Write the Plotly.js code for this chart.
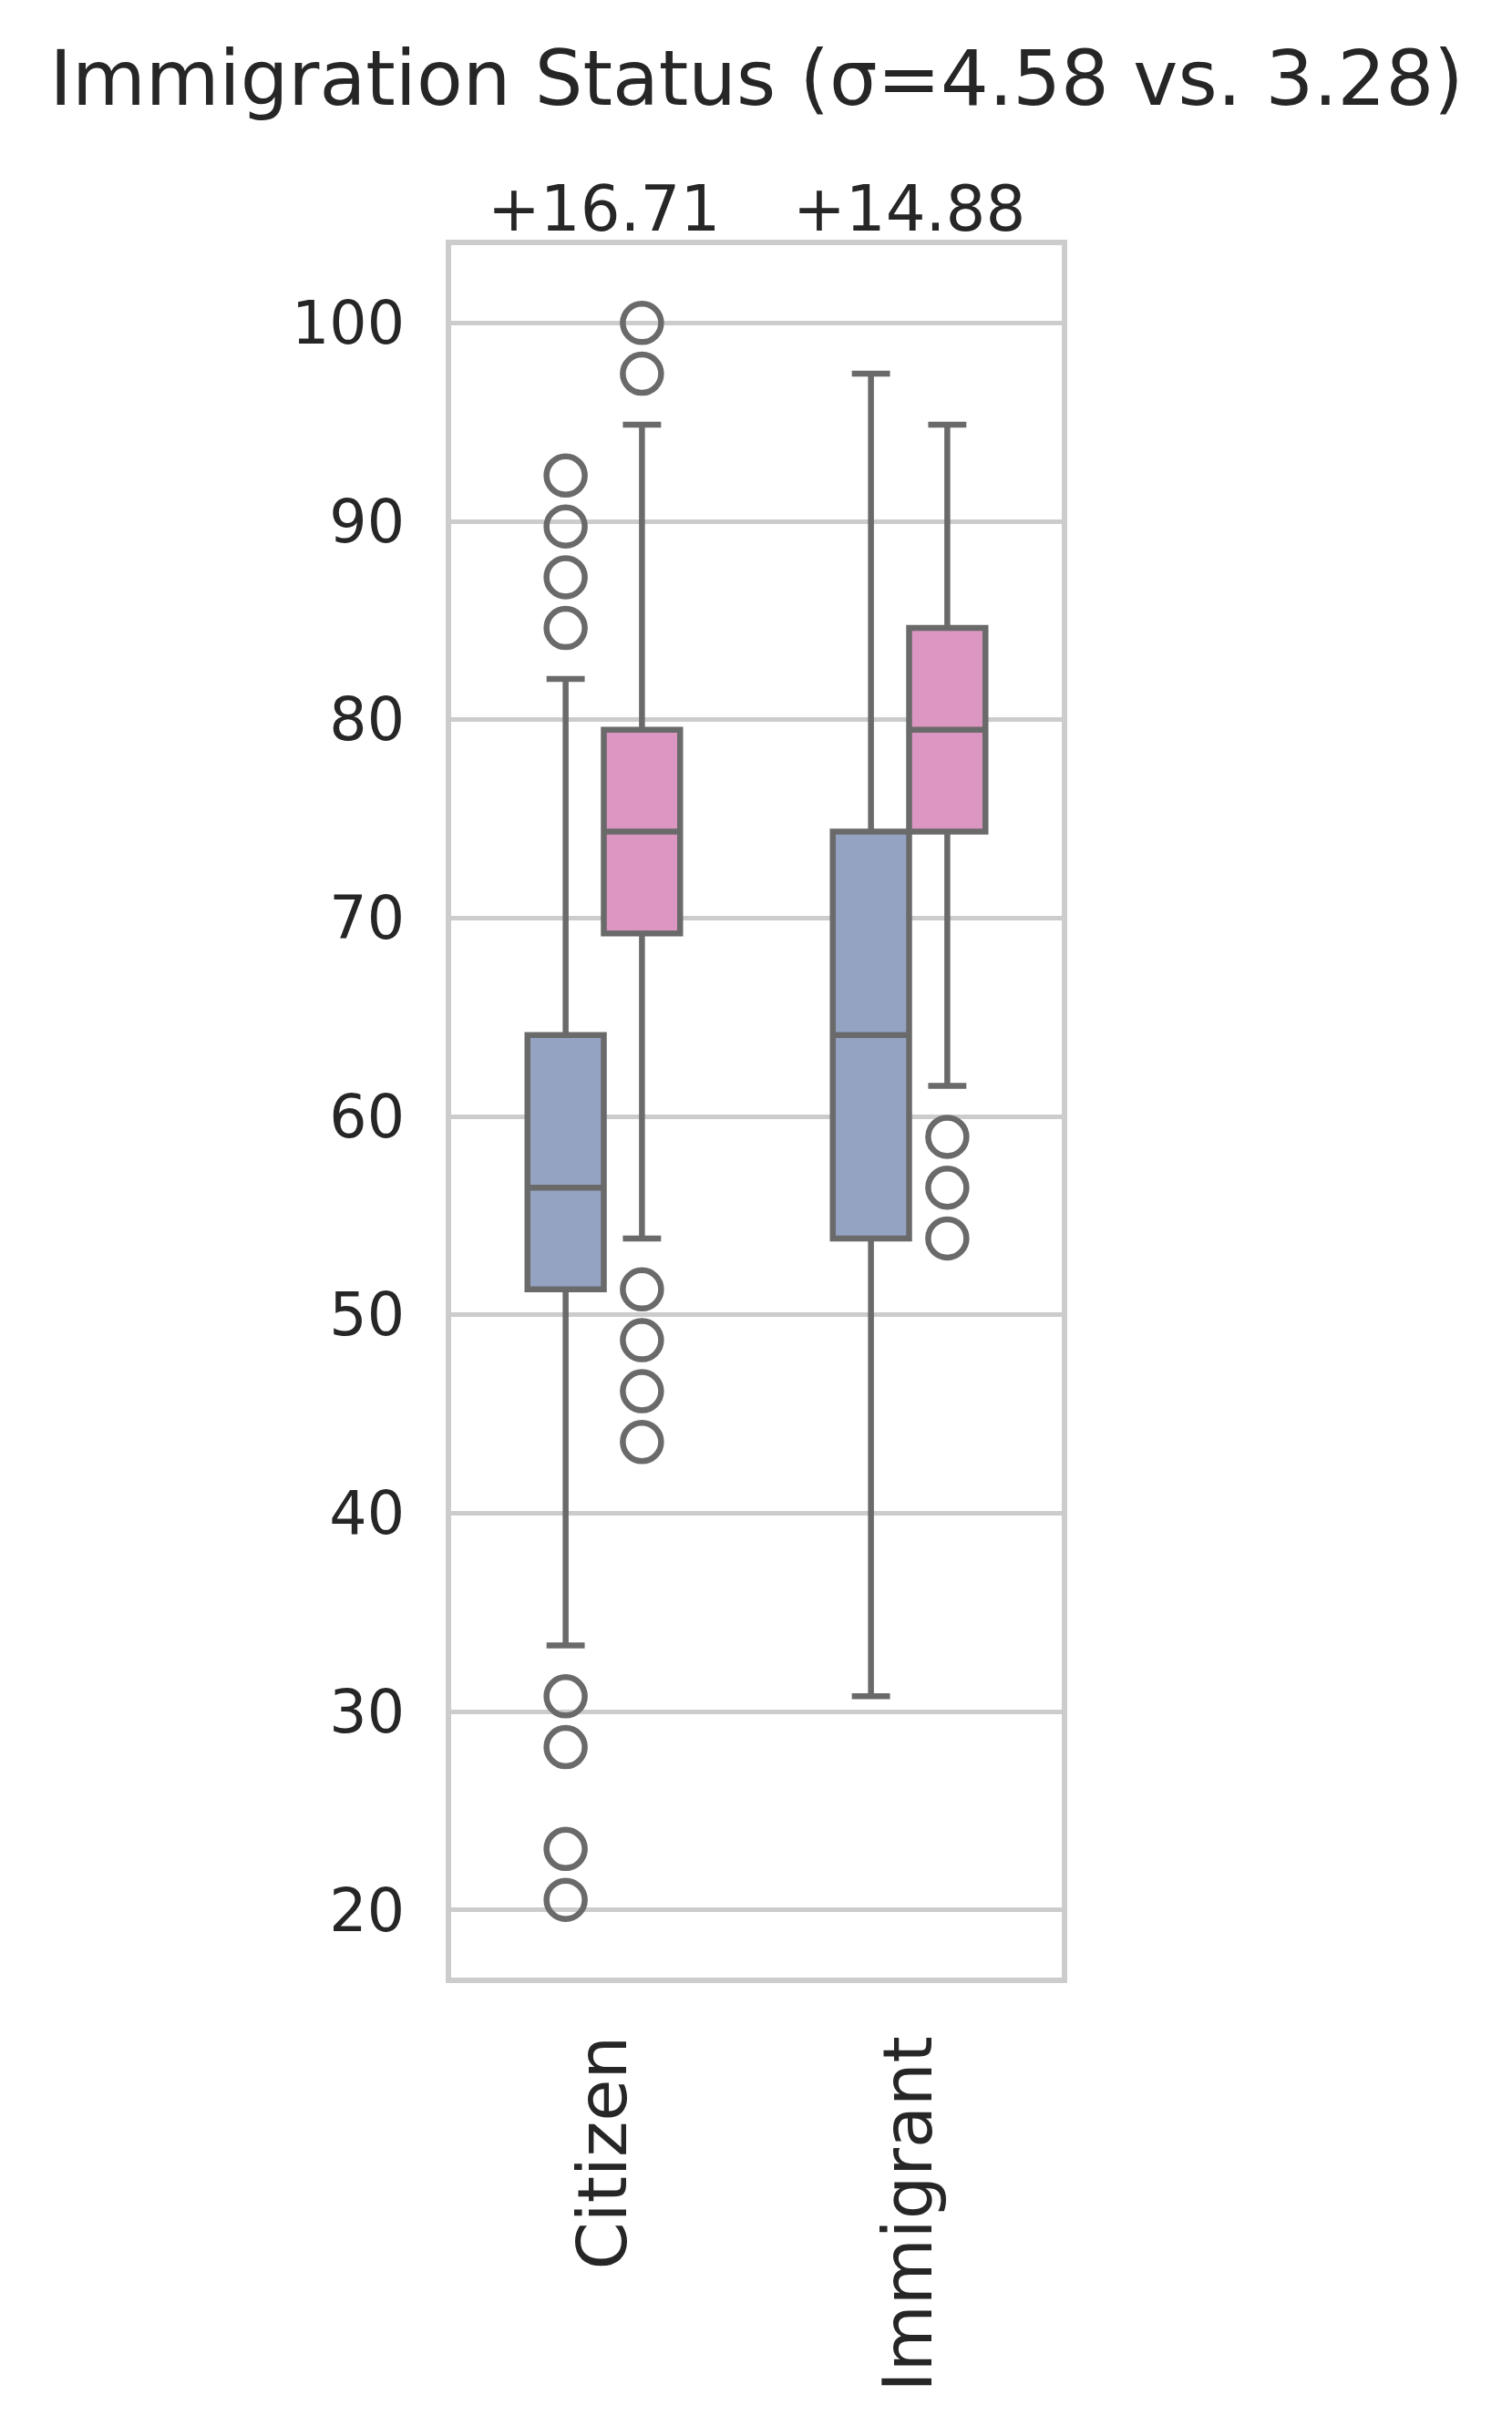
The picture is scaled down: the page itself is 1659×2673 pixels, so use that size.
<!DOCTYPE html>
<html>
<head>
<meta charset="utf-8">
<script src="https://cdn.plot.ly/plotly-3.0.1.min.js"></script>
<style>
  html, body { margin: 0; padding: 0; background: #fff; }
  #chart { width: 1659px; height: 2673px; }
</style>
</head>
<body>
<div id="chart"></div>
<script>
// Immigration status score boxplot, two groups per category (blue / pink)
var categories = ['Citizen', 'Immigrant'];
var diffLabels = ['+16.71', '+14.88'];

// blue series (first hue), one entry per category
var blueLower  = [33.33, 30.77];
var blueQ1     = [51.28, 53.85];
var blueMedian = [56.41, 64.10];
var blueQ3     = [64.10, 74.36];
var blueUpper  = [82.05, 97.44];
var blueOutliers = [
    [92.31, 89.74, 87.18, 84.62, 30.77, 28.21, 23.08, 20.51],
    []
];

// pink series (second hue)
var pinkLower  = [53.85, 61.54];
var pinkQ1     = [69.23, 74.36];
var pinkMedian = [74.36, 79.49];
var pinkQ3     = [79.49, 84.62];
var pinkUpper  = [94.87, 94.87];
var pinkOutliers = [
    [100.0, 97.44, 51.28, 48.72, 46.15, 43.59],
    [58.97, 56.41, 53.85]
];

var yTicks = [20, 30, 40, 50, 60, 70, 80, 90, 100];

var edge = '#6a6a6a';
var textColor = '#262626';
var boxW = 0.25;

var series = [
    {lower: blueLower, q1: blueQ1, med: blueMedian, q3: blueQ3, upper: blueUpper,
     out: blueOutliers, fill: '#95a3c3', shift: -boxW / 2},
    {lower: pinkLower, q1: pinkQ1, med: pinkMedian, q3: pinkQ3, upper: pinkUpper,
     out: pinkOutliers, fill: '#db96c1', shift: boxW / 2}
];

var data = [];
series.forEach(function(s) {
    categories.forEach(function(cat, i) {
        var pos = i + s.shift;
        data.push({
            type: 'box',
            x: [pos],
            q1: [s.q1[i]],
            median: [s.med[i]],
            q3: [s.q3[i]],
            lowerfence: [s.lower[i]],
            upperfence: [s.upper[i]],
            width: boxW,
            whiskerwidth: 0.5,
            fillcolor: s.fill,
            line: {color: edge, width: 6.5},
            boxpoints: false,
            hoverinfo: 'skip',
            showlegend: false
        });
        if (s.out[i].length) {
            data.push({
                type: 'scatter',
                mode: 'markers',
                x: s.out[i].map(function() { return pos; }),
                y: s.out[i],
                marker: {symbol: 'circle-open', size: 42, color: edge,
                         line: {width: 6.5, color: edge}},
                hoverinfo: 'skip',
                showlegend: false
            });
        }
    });
});

var annotations = categories.map(function(cat, i) {
    return {
        x: i, xref: 'x',
        y: 1, yref: 'paper',
        yanchor: 'bottom',
        yshift: -2,
        text: diffLabels[i],
        showarrow: false,
        font: {size: 69, color: textColor}
    };
});

var layout = {
    width: 1659,
    height: 2673,
    margin: {l: 495, r: 494, t: 269, b: 503},
    paper_bgcolor: '#fff',
    plot_bgcolor: '#fff',
    font: {family: 'DejaVu Sans, sans-serif', color: textColor},
    title: {
        text: 'Immigration Status (σ=4.58 vs. 3.28)',
        font: {size: 83, color: textColor},
        x: 0.5, xref: 'paper',
        y: 0.968, yref: 'container', yanchor: 'middle'
    },
    xaxis: {
        range: [-0.5, 1.5],
        tickvals: [0, 1],
        ticktext: categories,
        tickangle: -90,
        tickfont: {size: 75},
        showgrid: false,
        zeroline: false,
        showline: true,
        mirror: true,
        linecolor: '#cccccc',
        linewidth: 6,
        ticks: '',
        ticklabelstandoff: 28
    },
    yaxis: {
        range: [16.59, 103.92],
        tickvals: yTicks,
        tickfont: {size: 65},
        showgrid: true,
        gridcolor: '#cccccc',
        gridwidth: 5,
        zeroline: false,
        showline: true,
        mirror: true,
        linecolor: '#cccccc',
        linewidth: 6,
        ticks: '',
        ticklabelstandoff: 32
    },
    annotations: annotations
};

Plotly.newPlot('chart', data, layout, {displayModeBar: false, staticPlot: true});
</script>
</body>
</html>
